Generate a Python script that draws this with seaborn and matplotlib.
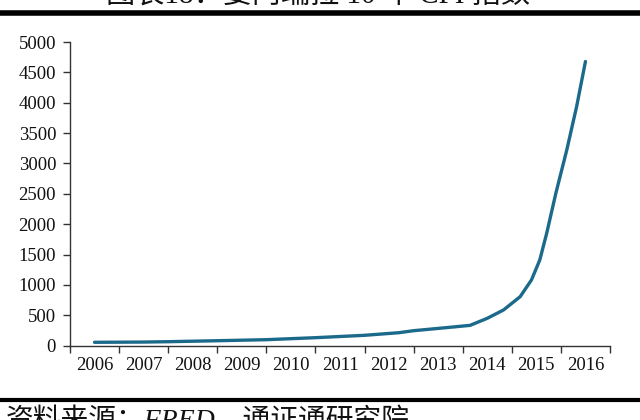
import numpy as np
import pandas as pd
import matplotlib
matplotlib.use("Agg")
import matplotlib.pyplot as plt
from matplotlib.lines import Line2D
import seaborn as sns

# ---- data ----
years = [2006, 2007, 2008, 2009, 2010, 2011, 2012, 2013, 2014, 2015, 2016]
period = [2006.0, 2007.0, 2007.5, 2008.5, 2009.5, 2010.5, 2011.5, 2012.2, 2012.5,
          2013.2, 2013.65, 2014.0, 2014.33, 2014.67, 2014.9, 2015.07, 2015.21,
          2015.4, 2015.62, 2015.82, 2016.0]
cpi = [56, 60, 66, 82, 99, 132, 171, 214, 247,
       300, 335, 451, 588, 807, 1082, 1412, 1850,
       2520, 3224, 3937, 4679]
y_ticks = [0, 500, 1000, 1500, 2000, 2500, 3000, 3500, 4000, 4500, 5000]
title_text = "图表18：委内瑞拉 10 年 CPI 指数"
source_text = "资料来源：FRED，通证通研究院"

df = pd.DataFrame({"period": period, "cpi": cpi})

sns.set_style("ticks")
plt.rcParams["font.family"] = ["Liberation Serif", "Noto Sans CJK SC", "DejaVu Sans"]

fig = plt.figure(figsize=(6.4, 4.2), dpi=100)
ax = fig.add_axes([70 / 640, 1 - 345.7 / 420, 540 / 640, (345.7 - 42) / 420])

sns.lineplot(data=df, x="period", y="cpi", ax=ax, color="#1B6A8C", linewidth=2.4)

ax.set_xlim(years[0] - 0.5, years[-1] + 0.5)
ax.set_ylim(y_ticks[0], y_ticks[-1])
ax.set_yticks(y_ticks)
ax.set_yticklabels([str(v) for v in y_ticks], fontsize=13.5, color="#111111")

boundaries = [y - 0.5 for y in years] + [years[-1] + 0.5]
ax.set_xticks(boundaries)
ax.set_xticklabels([""] * len(boundaries))
ax.set_xticks(years, minor=True)
ax.set_xticklabels([str(y) for y in years], minor=True, fontsize=13.5, color="#111111")
ax.tick_params(axis="x", which="minor", length=0, pad=8)
ax.tick_params(axis="x", which="major", length=5, width=1, color="#333333")
ax.tick_params(axis="y", length=5, width=1, color="#333333", pad=5)

ax.set_xlabel("")
ax.set_ylabel("")
for s in ["top", "right"]:
    ax.spines[s].set_visible(False)
for s in ["left", "bottom"]:
    ax.spines[s].set_color("#333333")
    ax.spines[s].set_linewidth(1)

# header / footer rules and partially visible texts
fig.add_artist(Line2D([0, 1], [1 - 12.5 / 420] * 2, color="black", linewidth=4))
fig.add_artist(Line2D([0, 1], [1 - 399.5 / 420] * 2, color="black", linewidth=3))
fig.text(318 / 640, 1 + 4 / 420, title_text, ha="center", va="center", fontsize=21,
         color="#111111")
fig.text(6 / 640, 1 - 421 / 420, source_text, ha="left", va="center", fontsize=20,
         color="#111111", style="italic")

fig.savefig("out.png", dpi=100)
